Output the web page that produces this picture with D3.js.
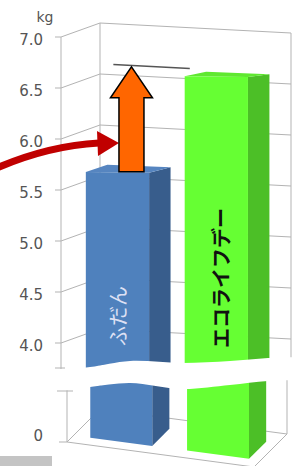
<!DOCTYPE html>
<html>
<head>
<meta charset="utf-8">
<script src="https://cdn.jsdelivr.net/npm/d3@7"></script>
<style>
  html, body { margin: 0; padding: 0; background: #fff; }
  svg { display: block; }
</style>
</head>
<body>
<svg id="chart" width="302" height="466"></svg>
<script>
const categories = ["ふだん", "エコライフデー"];
const values = [5.65, 6.6];
const upperTicks = [4.0, 4.5, 5.0, 5.5, 6.0, 6.5, 7.0];
const lowerTicks = [0];
const unitLabel = "kg";

const svg = d3.select("#chart");

// upper part of the broken axis (4.0 - 7.0), lower part (0 - ...)
const yUp = d3.scaleLinear().domain([4, 7]).range([343, 37]);
const yLow = d3.scaleLinear().domain([0, 1]).range([442, 340]);

const x = d3.scaleBand()
  .domain(categories)
  .range([0, 1])
  .paddingInner(0.36)
  .paddingOuter(0.146)
  .align(0.59);

// pseudo 3d projections: u across, v value, w depth (0 front, 1 back)
function P(u, v, w) {
  return [61 + 191 * u + 39 * w, yUp(v) - 14 * w + 10 * u * w];
}
function Q(u, v, w) {
  return [67 + 187 * u + 33 * w, yLow(v) + 25 * u - 33 * w];
}

const colors = [
  { front: "#4f81bd", side: "#385d8c", top: "#5685c0" },
  { front: "#66ff33", side: "#4cbf27", top: "#5fe830" }
];

const bandTop = [[0, 370], [60, 369], [90, 367], [130, 361], [182, 363], [230, 361], [268, 358], [302, 357]];
const bandBottom = [[0, 392], [60, 391], [90, 387], [130, 383], [182, 389], [230, 385], [268, 381], [302, 380]];
const curve = d3.line().curve(d3.curveCatmullRom);

const defs = svg.append("defs");
defs.append("clipPath").attr("id", "clip-up")
  .append("path").attr("d", curve(bandTop) + "L302,0L0,0Z");
defs.append("clipPath").attr("id", "clip-low")
  .append("path").attr("d", curve(bandBottom) + "L302,466L0,466Z");

const grid = "#b3b3b3";
const poly = pts => "M" + pts.map(p => p.join(",")).join("L") + "Z";
const seg = (a, b) => "M" + a.join(",") + "L" + b.join(",");

function drawBar(g, proj, i, v0, v1, w0, w1) {
  const u0 = x(categories[i]), u1 = u0 + x.bandwidth();
  const c = colors[i];
  g.append("path").attr("d", poly([proj(u1, v0, w0), proj(u1, v0, w1), proj(u1, v1, w1), proj(u1, v1, w0)]))
    .attr("fill", c.side);
  g.append("path").attr("d", poly([proj(u0, v1, w0), proj(u1, v1, w0), proj(u1, v1, w1), proj(u0, v1, w1)]))
    .attr("fill", c.top);
  g.append("path").attr("d", poly([proj(u0, v0, w0), proj(u1, v0, w0), proj(u1, v1, w0), proj(u0, v1, w0)]))
    .attr("fill", c.front);
}

// ---- upper section
const up = svg.append("g").attr("clip-path", "url(#clip-up)");

upperTicks.forEach(t => {
  up.append("path").attr("d", seg(P(0, t, 1), P(1, t, 1)))
    .attr("stroke", grid).attr("fill", "none");
  up.append("path").attr("d", seg(P(0, t, 0), P(0, t, 1)))
    .attr("stroke", grid).attr("fill", "none");
});
[[0, 0], [0, 1], [1, 1]].forEach(([u, w]) => {
  up.append("path").attr("d", seg(P(u, 7, w), P(u, 3, w)))
    .attr("stroke", grid).attr("fill", "none");
});

// target line on back wall at the eco-day level
up.append("path").attr("d", seg(P(0.07, values[1], 1), P(0.47, values[1], 1)))
  .attr("stroke", "#555").attr("stroke-width", 1.6).attr("fill", "none");

values.forEach((v, i) => drawBar(up, P, i, 3.2, v, 0.2, 0.75));

// ---- lower section
const low = svg.append("g").attr("clip-path", "url(#clip-low)");

low.append("path").attr("d", poly([Q(0, 0, 0), Q(1, 0, 0), Q(1, 0, 1), Q(0, 0, 1)]))
  .attr("fill", "#fff").attr("stroke", grid);
[[0, 0], [0, 1], [1, 1]].forEach(([u, w]) => {
  low.append("path").attr("d", seg(Q(u, 0, w), Q(u, 1, w)))
    .attr("stroke", grid).attr("fill", "none");
});
values.forEach((v, i) => drawBar(low, Q, i, 0, 1, 0.2, 0.72));

// ---- axis ticks and labels
const axis = svg.append("g");
upperTicks.forEach(t => {
  axis.append("line").attr("x1", 55).attr("x2", 61)
    .attr("y1", yUp(t)).attr("y2", yUp(t)).attr("stroke", grid);
});
lowerTicks.forEach(t => {
  axis.append("line").attr("x1", 59).attr("x2", 67)
    .attr("y1", yLow(t)).attr("y2", yLow(t)).attr("stroke", grid);
});
// break marks
axis.append("line").attr("x1", 55).attr("x2", 65).attr("y1", 368).attr("y2", 368).attr("stroke", grid);
axis.append("line").attr("x1", 57).attr("x2", 73).attr("y1", 391).attr("y2", 391).attr("stroke", grid);

const fmt = d3.format(".1f");
axis.selectAll("text.up").data(upperTicks).enter().append("text")
  .attr("x", 43).attr("y", d => yUp(d) + 3)
  .attr("text-anchor", "end").attr("dominant-baseline", "middle")
  .attr("font-family", "DejaVu Sans").attr("font-size", 15).attr("fill", "#555")
  .text(d => fmt(d));
axis.selectAll("text.low").data(lowerTicks).enter().append("text")
  .attr("x", 43).attr("y", d => yLow(d) - 6)
  .attr("text-anchor", "end").attr("dominant-baseline", "middle")
  .attr("font-family", "DejaVu Sans").attr("font-size", 15).attr("fill", "#555")
  .text(d => d);
axis.append("text").attr("x", 45).attr("y", 18)
  .attr("text-anchor", "middle").attr("dominant-baseline", "middle")
  .attr("font-family", "DejaVu Sans").attr("font-size", 14).attr("fill", "#555")
  .text(unitLabel);

// ---- bar labels (rotated)
const labelStyle = [
  { fill: "#dde0f4", weight: "normal", y: 316, dx: 0 },
  { fill: "#111", weight: "bold", y: 278, dx: 4 }
];
categories.forEach((c, i) => {
  const cx = P(x(c) + x.bandwidth() / 2, 0, 0.2)[0] + labelStyle[i].dx;
  svg.append("text")
    .attr("transform", `translate(${cx},${labelStyle[i].y}) rotate(-90)`)
    .attr("text-anchor", "middle").attr("dominant-baseline", "central")
    .attr("font-family", "Noto Sans CJK JP").attr("font-size", 20)
    .attr("font-weight", labelStyle[i].weight)
    .attr("fill", labelStyle[i].fill)
    .text(c);
});

// ---- red curved arrow
svg.append("path").attr("d", "M-10,171 Q45,146 99,143")
  .attr("fill", "none").attr("stroke", "#c00000").attr("stroke-width", 7);
svg.append("path").attr("d", "M97,131L119,143L98,156Z").attr("fill", "#c00000");

// ---- orange block arrow from the normal day level up to the eco-day level
const ax = P(x(categories[0]) + x.bandwidth() / 2, 0, 0.2)[0] + 14;
const aBottom = yUp(values[0]) - 3;
const aTip = yUp(values[1]) - 11;
const aHead = aTip + 31;
svg.append("path")
  .attr("d", poly([
    [ax - 12.5, aBottom], [ax - 12.5, aHead], [ax - 21, aHead], [ax, aTip],
    [ax + 21, aHead], [ax + 12.5, aHead], [ax + 12.5, aBottom]
  ]))
  .attr("fill", "#ff6600").attr("stroke", "#000").attr("stroke-width", 1.5);

// grey strip bottom-left
svg.append("rect").attr("x", 0).attr("y", 456).attr("width", 52).attr("height", 10).attr("fill", "#c4c4c4");
</script>
</body>
</html>
